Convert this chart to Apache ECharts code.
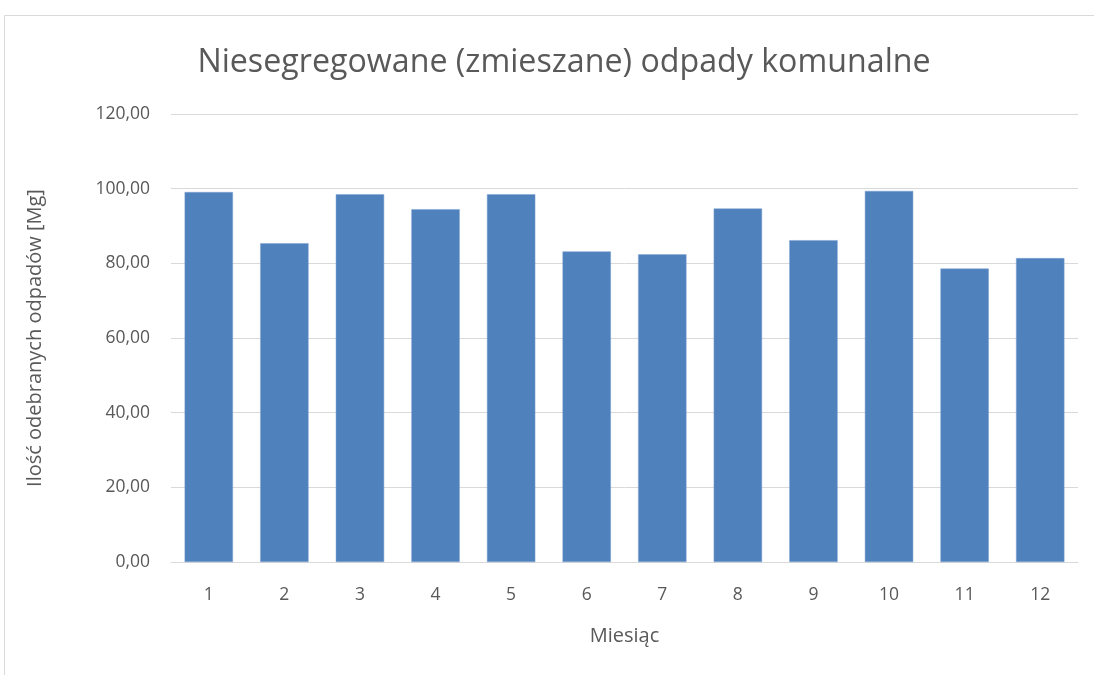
<!DOCTYPE html>
<html>
<head>
<meta charset="utf-8">
<script src="https://cdn.jsdelivr.net/npm/echarts@6/dist/echarts.min.js"></script>
<style>
html,body{margin:0;padding:0;background:#fff;}
#chart{width:1094px;height:675px;}
</style>
</head>
<body>
<div id="chart"></div>
<script>
// dane: miesiące i ilość odpadów [Mg]
var miesiace = ['1','2','3','4','5','6','7','8','9','10','11','12'];
var odpady = [99.1, 85.4, 98.5, 94.5, 98.5, 83.2, 82.4, 94.7, 86.2, 99.4, 78.6, 81.4];

var myChart = echarts.init(document.getElementById('chart'));
var font = '"Open Sans", sans-serif';

myChart.setOption({
	animation : false,
	graphic : [ {
		type : 'rect',
		shape : { x : 4.5, y : 15.5, width : 1200, height : 700 },
		style : { fill : 'none', stroke : '#d9d9d9', lineWidth : 1 },
		silent : true
	} ],
	title : {
		text : 'Niesegregowane (zmieszane) odpady komunalne',
		left : 559,
		top : 42,
		textAlign : 'center',
		textStyle : {
			fontFamily : font,
			fontSize : 32.2,
			fontWeight : 'normal',
			color : '#595959'
		}
	},
	grid : {
		left : 171,
		right : 16,
		top : 114,
		bottom : 113
	},
	xAxis : {
		type : 'category',
		data : miesiace,
		name : 'Miesiąc',
		nameLocation : 'middle',
		nameGap : 64,
		nameTextStyle : { fontFamily : font, fontSize : 20, color : '#595959' },
		axisLine : { lineStyle : { color : '#d9d9d9', width : 1 } },
		axisTick : { show : false },
		axisLabel : { fontFamily : font, fontSize : 17.5, color : '#595959', margin : 24 }
	},
	yAxis : {
		type : 'value',
		min : 0,
		max : 120,
		interval : 20,
		name : 'Ilość odebranych odpadów [Mg]',
		nameLocation : 'middle',
		nameGap : 126,
		nameTextStyle : { fontFamily : font, fontSize : 20, color : '#595959' },
		axisLine : { show : false },
		axisTick : { show : false },
		splitLine : { lineStyle : { color : '#d9d9d9', width : 1 } },
		axisLabel : {
			fontFamily : font,
			fontSize : 17.5,
			color : '#595959',
			margin : 21,
			formatter : function(v) { return v.toFixed(2).replace('.', ','); }
		}
	},
	series : [ {
		type : 'bar',
		data : odpady,
		barCategoryGap : '36%',
		itemStyle : {
			color : '#4f81bd',
			borderColor : '#7fa3d1',
			borderWidth : 0.5
		}
	} ]
});
</script>
</body>
</html>
